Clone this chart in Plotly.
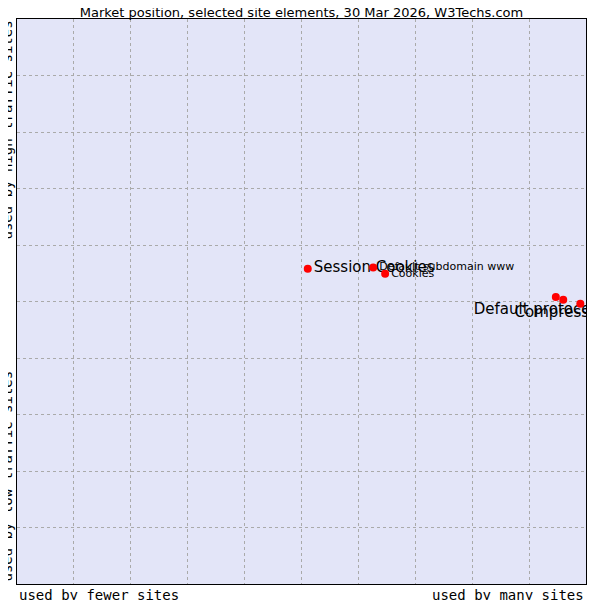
import plotly.graph_objects as go

names = ["Session Cookies", "Default subdomain www", "Cookies", "Default protocol https", "Compression", "CSS"]
x_vals = [51.1, 62.6, 64.7, 94.7, 96.0, 99.0]
y_vals = [55.8, 56.0, 54.9, 50.8, 50.3, 49.6]
label_size = [15, 11, 11, 15, 15, 11]
label_pos = ["middle right", "middle right", "middle right", "bottom center", "bottom center", "middle right"]

fig = go.Figure()
for n, x, y, s, p in zip(names, x_vals, y_vals, label_size, label_pos):
    fig.add_trace(go.Scatter(x=[x], y=[y], mode="markers+text", text=[n], textposition=p,
                             textfont=dict(family="DejaVu Sans", size=s, color="black"),
                             marker=dict(color="red", size=8, symbol="circle"),
                             cliponaxis=True, showlegend=False, hoverinfo="text"))

grid = dict(showgrid=True, gridcolor="#aaaaaa", griddash="dot", gridwidth=1,
            showticklabels=False, zeroline=False, showline=True, linecolor="black",
            mirror=True, ticks="", dtick=10)
fig.update_xaxes(range=[0, 100], **grid)
fig.update_yaxes(range=[0, 100], **grid)

mono = dict(family="DejaVu Sans Mono", size=14, color="black")
fig.update_layout(
    width=600, height=600, paper_bgcolor="white", plot_bgcolor="#e3e5f8",
    margin=dict(l=9, r=22, t=11, b=24),
    title=dict(text="Market position, selected site elements, 30 Mar 2026, W3Techs.com",
               x=0.5, xref="paper", y=1, yref="paper", yanchor="bottom", pad=dict(b=2),
               xanchor="center", font=dict(family="DejaVu Sans", size=13, color="black")),
    annotations=[
        dict(text="used by fewer sites", xref="paper", yref="paper", x=0, y=0, xanchor="left", yanchor="top", yshift=-1, showarrow=False, font=mono),
        dict(text="used by many sites", xref="paper", yref="paper", x=1, y=0, xanchor="right", yanchor="top", yshift=-1, showarrow=False, font=mono),
        dict(text="used by high traffic sites", xref="paper", yref="paper", x=0, y=1, xanchor="right", yanchor="top", textangle=-90, xshift=-1, showarrow=False, font=mono),
        dict(text="used by low traffic sites", xref="paper", yref="paper", x=0, y=0, xanchor="right", yanchor="bottom", textangle=-90, xshift=-1, showarrow=False, font=mono),
    ],
)
fig.write_html("out.html")
